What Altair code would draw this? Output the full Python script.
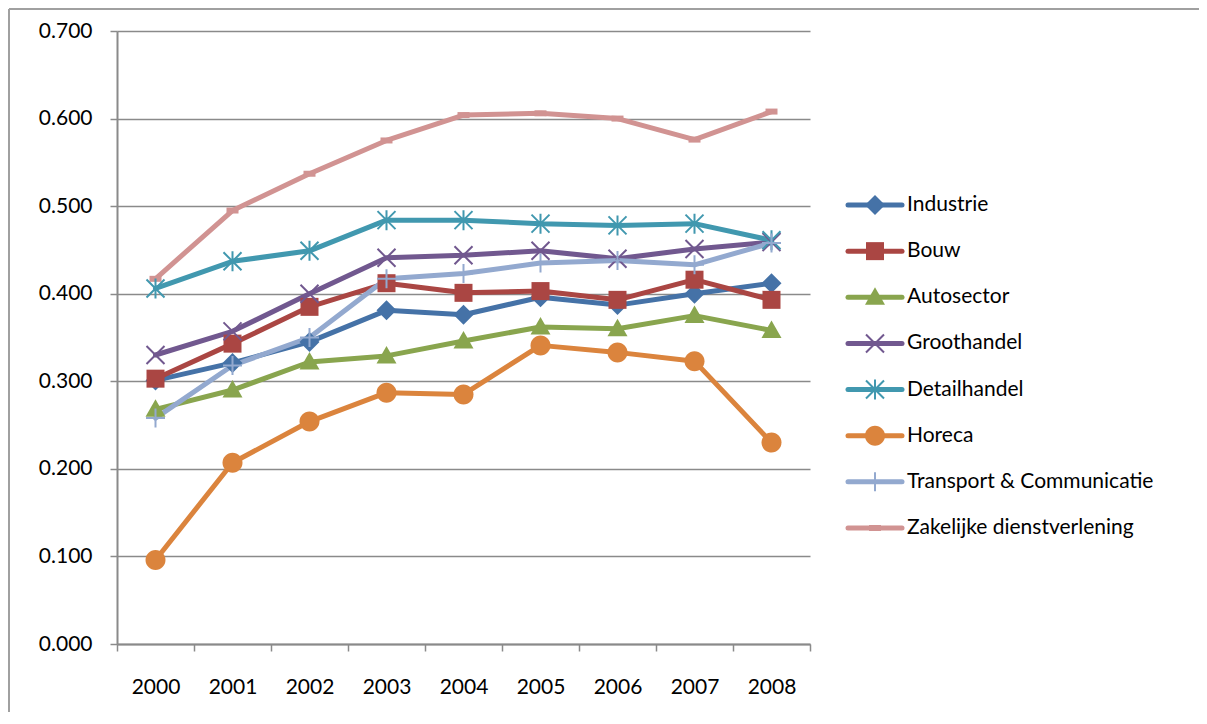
import altair as alt
import pandas as pd

years = ["2000", "2001", "2002", "2003", "2004", "2005", "2006", "2007", "2008"]
series_names = ["Industrie", "Bouw", "Autosector", "Groothandel", "Detailhandel",
                "Horeca", "Transport & Communicatie", "Zakelijke dienstverlening"]

industrie = [0.301, 0.321, 0.345, 0.381, 0.376, 0.396, 0.387, 0.400, 0.412]
bouw = [0.303, 0.343, 0.385, 0.412, 0.401, 0.403, 0.393, 0.416, 0.393]
autosector = [0.268, 0.290, 0.322, 0.329, 0.346, 0.362, 0.360, 0.375, 0.358]
groothandel = [0.330, 0.357, 0.400, 0.441, 0.444, 0.449, 0.440, 0.451, 0.459]
detailhandel = [0.406, 0.437, 0.449, 0.484, 0.484, 0.480, 0.478, 0.480, 0.461]
horeca = [0.096, 0.207, 0.254, 0.287, 0.285, 0.341, 0.333, 0.323, 0.230]
transport = [0.258, 0.318, 0.350, 0.417, 0.423, 0.435, 0.438, 0.433, 0.458]
zakelijk = [0.417, 0.495, 0.537, 0.575, 0.604, 0.606, 0.600, 0.576, 0.608]

colors = ["#4572A7", "#AA4643", "#89A54E", "#71588F", "#4198AF",
          "#DB843D", "#93A9CF", "#D19392"]
marker_paths = [
    "M0,-1L1,0L0,1L-1,0Z",                                   # diamond
    "M-0.9,-0.9L0.9,-0.9L0.9,0.9L-0.9,0.9Z",                 # square
    "M0,-1L1,0.75L-1,0.75Z",                                 # triangle
    "M-0.9,-0.9L0.9,0.9M-0.9,0.9L0.9,-0.9",                  # x
    "M-0.9,-0.9L0.9,0.9M-0.9,0.9L0.9,-0.9M0,-1L0,1",         # asterisk
    "M1,0A1,1 0 1,1 -1,0A1,1 0 1,1 1,0Z",                    # circle
    "M0,-0.95L0,0.95M-0.95,0L0.95,0",                        # plus
    "M-0.6,-0.3L0.6,-0.3L0.6,0.3L-0.6,0.3Z",                 # dash
]
filled_names = ["Industrie", "Bouw", "Autosector", "Horeca", "Zakelijke dienstverlening"]
stroked_names = ["Groothandel", "Detailhandel", "Transport & Communicatie"]

all_values = [industrie, bouw, autosector, groothandel, detailhandel, horeca, transport, zakelijk]
rows = []
for name, vals in zip(series_names, all_values):
    for yr, v in zip(years, vals):
        rows.append({"jaar": yr, "sector": name, "waarde": v})
df = pd.DataFrame(rows)
leg = pd.DataFrame({"sector": series_names})

FONT = "Lato"
FS = 21
GRID = "#8A8A8A"
W, H = 693, 613

color_scale = alt.Scale(domain=series_names, range=colors)
shape_scale = alt.Scale(domain=series_names, range=marker_paths)
color_enc = alt.Color("sector:N", scale=color_scale, legend=None)
shape_enc = alt.Shape("sector:N", scale=shape_scale, legend=None)

x_enc = alt.X("jaar:O", sort=years,
              scale=alt.Scale(type="band", paddingInner=0, paddingOuter=0),
              axis=alt.Axis(title=None, labelAngle=0, tickBand="extent", tickSize=7,
                            tickColor=GRID, tickWidth=1.5, domainColor=GRID, domainWidth=2,
                            labelFont=FONT, labelFontSize=FS, labelColor="#000000",
                            labelPadding=25, grid=False))
y_scale = alt.Scale(domain=[0, 0.7], nice=False, zero=True)
y_main = alt.Y("waarde:Q", scale=y_scale,
               axis=alt.Axis(title=None, values=[0, 0.1, 0.2, 0.3, 0.4, 0.5, 0.6, 0.7],
                             format=".3f", grid=True, gridColor=GRID, gridWidth=1.5,
                             tickSize=7, tickColor=GRID, tickWidth=1.5,
                             domainColor=GRID, domainWidth=2,
                             labelFont=FONT, labelFontSize=FS, labelColor="#000000",
                             labelPadding=18))
y_plain = alt.Y("waarde:Q", scale=y_scale, axis=None)

lines = alt.Chart(df).mark_line(strokeWidth=5, strokeJoin="round", strokeCap="round").encode(
    x=x_enc, y=y_main, color=color_enc)

pts_filled = alt.Chart(df).transform_filter(
    alt.FieldOneOfPredicate(field="sector", oneOf=filled_names)
).mark_point(filled=True, size=400, opacity=1).encode(
    x=x_enc, y=y_plain, color=color_enc, shape=shape_enc)

pts_stroked = alt.Chart(df).transform_filter(
    alt.FieldOneOfPredicate(field="sector", oneOf=stroked_names)
).mark_point(filled=False, size=400, opacity=1, strokeWidth=2).encode(
    x=x_enc, y=y_plain, color=color_enc, shape=shape_enc)

# legend built from the same scales
y_leg = alt.Y("sector:N", sort=series_names,
              scale=alt.Scale(type="point", domain=series_names, range=[174, 497], padding=0),
              axis=None)
leg_rule = alt.Chart(leg).mark_rule(strokeWidth=5, strokeCap="round").encode(
    x=alt.value(731), x2=alt.value(785), y=y_leg, color=color_enc)
leg_filled = alt.Chart(leg).transform_filter(
    alt.FieldOneOfPredicate(field="sector", oneOf=filled_names)
).mark_point(filled=True, size=400, opacity=1).encode(
    x=alt.value(758), y=y_leg, color=color_enc, shape=shape_enc)
leg_stroked = alt.Chart(leg).transform_filter(
    alt.FieldOneOfPredicate(field="sector", oneOf=stroked_names)
).mark_point(filled=False, size=400, opacity=1, strokeWidth=2).encode(
    x=alt.value(758), y=y_leg, color=color_enc, shape=shape_enc)
leg_text = alt.Chart(leg).mark_text(align="left", baseline="middle", font=FONT,
                                     fontSize=FS, color="#000000").encode(
    x=alt.value(790), y=y_leg, text="sector:N")

frame = pd.DataFrame({"b": [0]})
border_left = alt.Chart(frame).mark_rule(stroke="#A0A0A0", strokeWidth=2).encode(
    x=alt.value(-108), y=alt.value(-22), y2=alt.value(900))
border_top = alt.Chart(frame).mark_rule(stroke="#A0A0A0", strokeWidth=2).encode(
    x=alt.value(-108), x2=alt.value(1300), y=alt.value(-22))

chart = alt.layer(
    border_left, border_top, lines, pts_filled, pts_stroked,
    leg_rule, leg_filled, leg_stroked, leg_text
).resolve_scale(
    y="independent"
).properties(
    width=W, height=H,
    autosize=alt.AutoSizeParams(type="none"),
    padding={"left": 109, "top": 23, "right": 389, "bottom": 68},
    background="white",
).configure_view(stroke=None)

chart.save("out.html", embed_options={"renderer": "svg", "actions": False})
